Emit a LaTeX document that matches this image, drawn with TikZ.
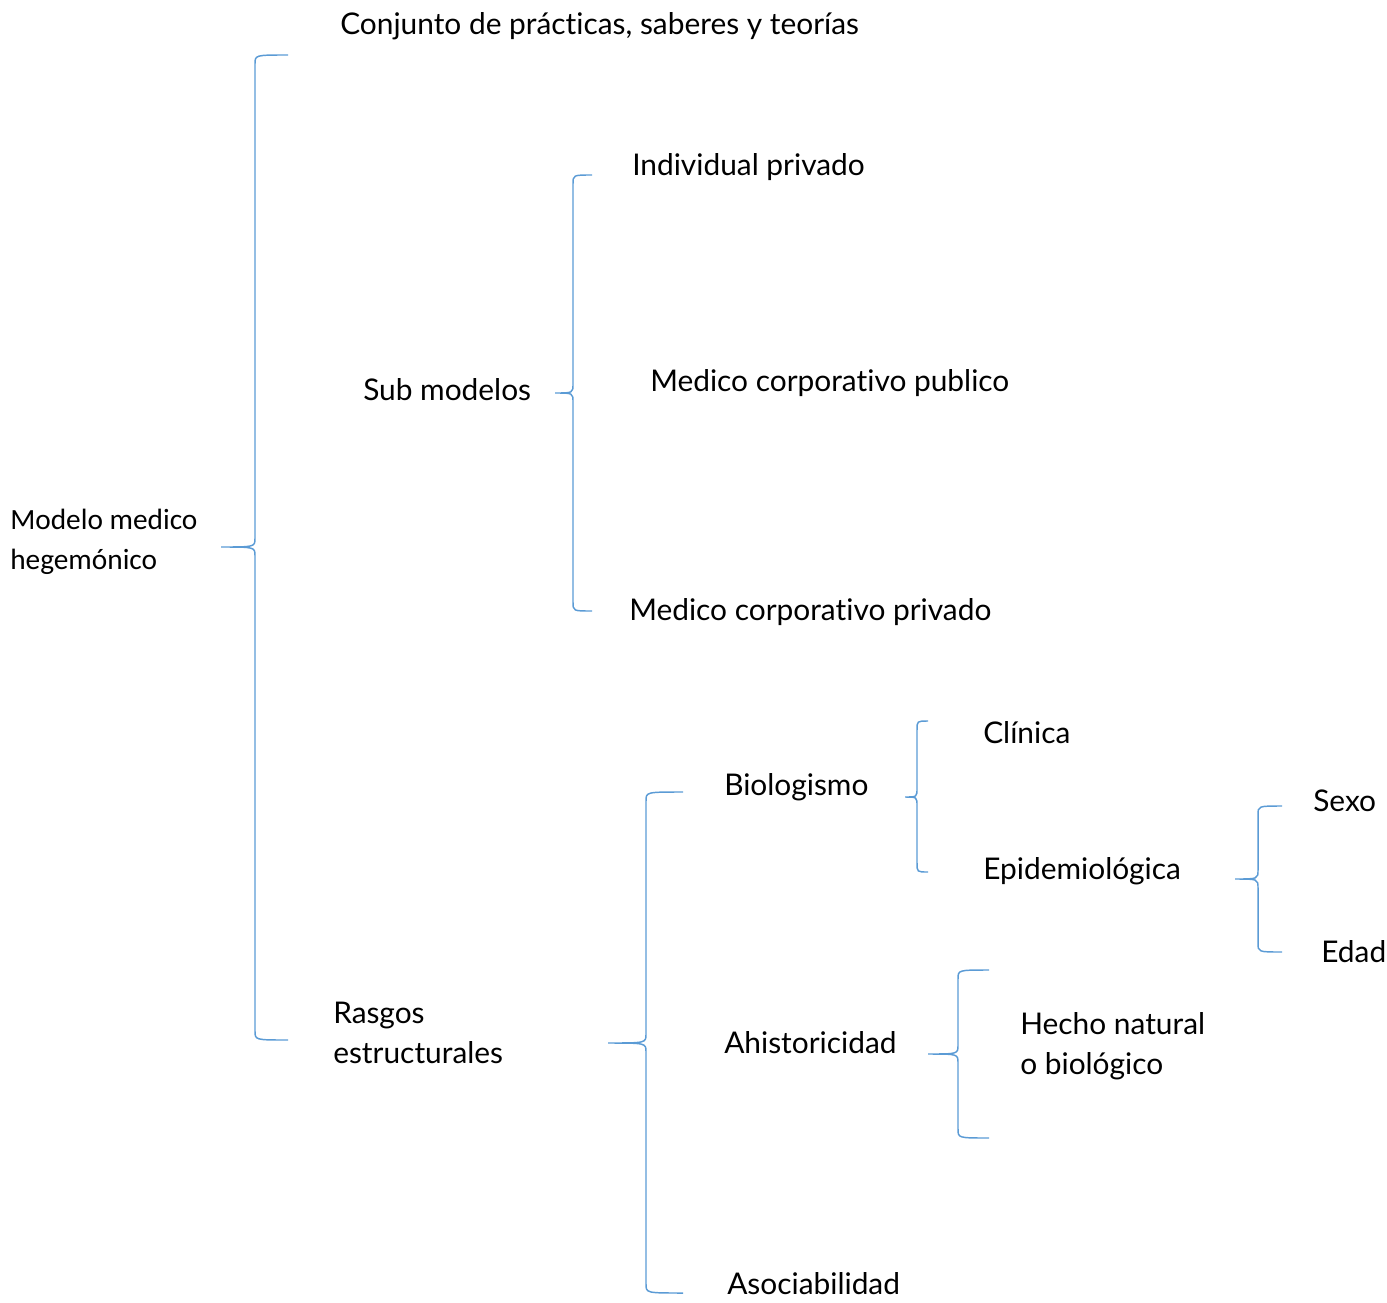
\documentclass[tikz,border=0pt]{standalone}
\usepackage{fontspec}
\setmainfont{Lato}[Ligatures=NoCommon]
\newfontfamily\calibri{Carlito}
\definecolor{llave}{HTML}{5B9BD5}

\begin{document}
\begin{tikzpicture}[x=0.75pt,y=-0.75pt,
  txt/.style={anchor=west,inner sep=0pt,align=left,font=\fontsize{22.4}{30}\selectfont},
  raiz/.style={anchor=west,inner sep=0pt,align=left,font=\calibri\fontsize{22}{30}\selectfont}]
\useasboundingbox (0,0) rectangle (1387,1302);
% llaves: xr/yt/xv/xtip/ytip/yb
\foreach \xr/\yt/\xv/\xtip/\ytip/\yb in {288/55/255/221/547/1040,592/175/573/555/393/611,683/792/646/608/1043/1293,928/721/917/905/797/872,1282/806/1258/1235/879/952,989/970/958/928/1054/1138}
\draw[llave,line width=1.1pt] (\xr,\yt) .. controls (\xv,\yt) .. (\xv,\yt+9) -- (\xv,\ytip-9) .. controls (\xv,\ytip) .. (\xtip,\ytip) .. controls (\xv,\ytip) .. (\xv,\ytip+9) -- (\xv,\yb-9) .. controls (\xv,\yb) .. (\xr,\yb);
\node[raiz] (mmh) at (10,542) {Modelo medico\\hegemónico};
\node[txt] (conj) at (340,26) {Conjunto de prácticas, saberes y teorías};
\node[txt] (sub) at (363,390) {Sub modelos};
\node[txt] (ind) at (632,167) {Individual privado};
\node[txt] (pub) at (650,383) {Medico corporativo publico};
\node[txt] (priv) at (629,612) {Medico corporativo privado};
\node[txt] (rasgos) at (333,1033) {Rasgos\\estructurales};
\node[txt] (bio) at (724,787) {Biologismo};
\node[txt] (ahis) at (724,1043) {Ahistoricidad};
\node[txt] (asoc) at (727,1284) {Asociabilidad};
\node[txt] (clin) at (983,733) {Clínica};
\node[txt] (epi) at (983,871) {Epidemiológica};
\node[txt] (sexo) at (1313,801) {Sexo};
\node[txt] (edad) at (1321,952) {Edad};
\node[txt] (hecho) at (1020,1046) {Hecho natural\\o biológico};
\end{tikzpicture}
\end{document}
